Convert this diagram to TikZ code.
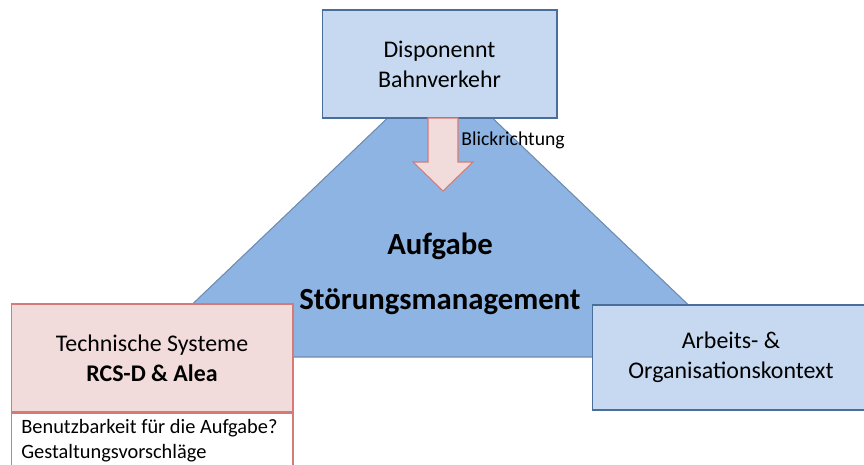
\documentclass[tikz,border=0pt]{standalone}
\usepackage{fontspec}
\setmainfont{Carlito}
\usetikzlibrary{positioning, calc}
\definecolor{lightblue}{HTML}{C6D9F1}
\definecolor{midblue}{HTML}{8EB4E3}
\definecolor{darkblue}{HTML}{4A6E9C}
\definecolor{lightred}{HTML}{F2DCDB}
\definecolor{darkred}{HTML}{D47A78}
\newcommand{\boxfont}{\fontsize{13.6}{17.2}\selectfont}
\newcommand{\notefont}{\fontsize{11.6}{14.2}\selectfont}

\begin{document}
\begin{tikzpicture}[x=0.02cm, y=-0.02cm,
    bluebox/.style={draw=darkblue, fill=lightblue, line width=0.6pt, align=center, font=\boxfont, inner sep=0pt},
    redbox/.style={draw=darkred, fill=lightred, line width=0.6pt, align=center, font=\boxfont, inner sep=0pt},
    task/.style={draw=darkblue!80, fill=midblue, line width=0.6pt},
    tasklabel/.style={font=\fontsize{17.5}{21}\selectfont\bfseries}]
  \useasboundingbox (0,0) rectangle (864,465);
  \clip (0,0) rectangle (864,465);

  \draw[task] (440,68) -- (743,357) -- (137,357) -- cycle;
  \node[tasklabel] (aufgabe) at (440,246) {Aufgabe};
  \node[tasklabel] (stoerung) at (440,302) {Störungsmanagement};

  \node[bluebox, minimum width=4.7cm, minimum height=2.16cm] (disp) at (439.5,64) {Disponennt\\Bahnverkehr};

  \node[redbox, minimum width=5.64cm, minimum height=2.16cm] (tech) at (152,358) {Technische Systeme\\\textbf{RCS-D \& Alea}};
  \node[draw=darkred, fill=white, line width=0.6pt, minimum width=5.64cm, minimum height=1.4cm, anchor=north] (notes) at (tech.south) {};
  \node[font=\notefont, align=left, anchor=north west, inner sep=0pt] (notestext) at (21,419) {Benutzbarkeit für die Aufgabe?\\Gestaltungsvorschläge};

  \node[bluebox, minimum width=5.54cm, minimum height=2.1cm] (kontext) at (731,357.5) {Arbeits- \&\\Organisationskontext};

  % Blickrichtung
  \draw[draw=darkred, fill=lightred, line width=0.6pt] (428,118) -- (458,118) -- (458,162) -- (473,162) -- (443,191) -- (413,162) -- (428,162) -- cycle;
  \node[font=\fontsize{11.2}{13}\selectfont, anchor=west, inner sep=0pt] (blick) at (461,140) {Blickrichtung};
\end{tikzpicture}
\end{document}
